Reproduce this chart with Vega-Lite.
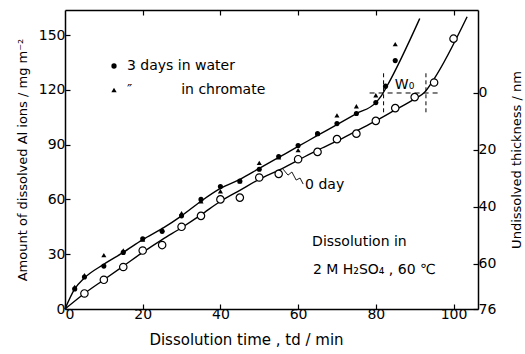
{
 "$schema": "https://vega.github.io/schema/vega-lite/v6.json",
 "width": 413, "height": 299,
 "autosize": {"type": "none"},
 "padding": {"left": 65, "top": 10, "right": 47, "bottom": 45},
 "background": "white",
 "config": {
  "view": {"stroke": null},
  "font": "DejaVu Sans",
  "axis": {"grid": false, "domainColor": "black", "domainWidth": 1.5, "tickColor": "black", "tickWidth": 1.2, "tickSize": -5, "labelPadding": 3, "labelFont": "DejaVu Sans", "labelFontSize": 14, "labelColor": "black", "titleFont": "DejaVu Sans", "titleFontSize": 14, "titleFontWeight": "normal", "titleColor": "black"}
 },
 "datasets": {
  "lines": [
   {"t": 0, "amt": 0, "line": "water"}, {"t": 2.5, "amt": 11, "line": "water"}, {"t": 5, "amt": 17, "line": "water"}, {"t": 10, "amt": 24.5, "line": "water"}, {"t": 15, "amt": 31, "line": "water"}, {"t": 20, "amt": 38, "line": "water"}, {"t": 25, "amt": 44, "line": "water"}, {"t": 30, "amt": 51, "line": "water"}, {"t": 35, "amt": 59, "line": "water"}, {"t": 40, "amt": 66, "line": "water"}, {"t": 45, "amt": 71, "line": "water"}, {"t": 50, "amt": 77, "line": "water"}, {"t": 55, "amt": 83, "line": "water"}, {"t": 60, "amt": 89, "line": "water"}, {"t": 65, "amt": 95, "line": "water"}, {"t": 70, "amt": 101, "line": "water"}, {"t": 75, "amt": 107, "line": "water"}, {"t": 80, "amt": 113, "line": "water"}, {"t": 81.5, "amt": 117, "line": "water"}, {"t": 83, "amt": 122.5, "line": "water"}, {"t": 91.3, "amt": 159, "line": "water"},
   {"t": 0, "amt": 0, "line": "0day"}, {"t": 5, "amt": 8.5, "line": "0day"}, {"t": 10, "amt": 16, "line": "0day"}, {"t": 15, "amt": 23.5, "line": "0day"}, {"t": 20, "amt": 31, "line": "0day"}, {"t": 25, "amt": 38, "line": "0day"}, {"t": 30, "amt": 44.5, "line": "0day"}, {"t": 35, "amt": 51.5, "line": "0day"}, {"t": 40, "amt": 59, "line": "0day"}, {"t": 45, "amt": 65, "line": "0day"}, {"t": 50, "amt": 71, "line": "0day"}, {"t": 55, "amt": 76, "line": "0day"}, {"t": 60, "amt": 81.5, "line": "0day"}, {"t": 65, "amt": 87, "line": "0day"}, {"t": 70, "amt": 92, "line": "0day"}, {"t": 75, "amt": 97.5, "line": "0day"}, {"t": 80, "amt": 103, "line": "0day"}, {"t": 85, "amt": 109, "line": "0day"}, {"t": 90, "amt": 115, "line": "0day"}, {"t": 92.5, "amt": 118.5, "line": "0day"}, {"t": 95, "amt": 126, "line": "0day"}, {"t": 103.5, "amt": 160, "line": "0day"}
  ],
  "pts": [
   {"t": 5, "amt": 8.5, "series": "0day"}, {"t": 10, "amt": 16, "series": "0day"}, {"t": 15, "amt": 23, "series": "0day"}, {"t": 20, "amt": 32, "series": "0day"}, {"t": 25, "amt": 35, "series": "0day"}, {"t": 30, "amt": 45, "series": "0day"}, {"t": 35, "amt": 51, "series": "0day"}, {"t": 40, "amt": 60, "series": "0day"}, {"t": 45, "amt": 61, "series": "0day"}, {"t": 50, "amt": 72, "series": "0day"}, {"t": 55, "amt": 74, "series": "0day"}, {"t": 60, "amt": 82, "series": "0day"}, {"t": 65, "amt": 86, "series": "0day"}, {"t": 70, "amt": 93, "series": "0day"}, {"t": 75, "amt": 96, "series": "0day"}, {"t": 80, "amt": 103, "series": "0day"}, {"t": 85, "amt": 110, "series": "0day"}, {"t": 90, "amt": 116, "series": "0day"}, {"t": 95, "amt": 124, "series": "0day"}, {"t": 100, "amt": 148, "series": "0day"},
   {"t": 2.5, "amt": 11, "series": "water"}, {"t": 5, "amt": 17.5, "series": "water"}, {"t": 10, "amt": 23.5, "series": "water"}, {"t": 15, "amt": 31, "series": "water"}, {"t": 20, "amt": 38.5, "series": "water"}, {"t": 25, "amt": 42.5, "series": "water"}, {"t": 30, "amt": 51, "series": "water"}, {"t": 35, "amt": 60, "series": "water"}, {"t": 40, "amt": 67, "series": "water"}, {"t": 45, "amt": 70, "series": "water"}, {"t": 50, "amt": 76.5, "series": "water"}, {"t": 55, "amt": 83.5, "series": "water"}, {"t": 60, "amt": 89.5, "series": "water"}, {"t": 65, "amt": 96, "series": "water"}, {"t": 70, "amt": 101.5, "series": "water"}, {"t": 75, "amt": 107, "series": "water"}, {"t": 80, "amt": 113, "series": "water"}, {"t": 82.5, "amt": 122, "series": "water"}, {"t": 85, "amt": 136, "series": "water"},
   {"t": 2.5, "amt": 12, "series": "chromate"}, {"t": 5, "amt": 18.5, "series": "chromate"}, {"t": 10, "amt": 29.5, "series": "chromate"}, {"t": 15, "amt": 32, "series": "chromate"}, {"t": 20, "amt": 38, "series": "chromate"}, {"t": 25, "amt": 43.5, "series": "chromate"}, {"t": 30, "amt": 52.5, "series": "chromate"}, {"t": 35, "amt": 59, "series": "chromate"}, {"t": 40, "amt": 64.5, "series": "chromate"}, {"t": 45, "amt": 70, "series": "chromate"}, {"t": 50, "amt": 80, "series": "chromate"}, {"t": 55, "amt": 83, "series": "chromate"}, {"t": 60, "amt": 87, "series": "chromate"}, {"t": 65, "amt": 96, "series": "chromate"}, {"t": 70, "amt": 106, "series": "chromate"}, {"t": 75, "amt": 111, "series": "chromate"}, {"t": 80, "amt": 117, "series": "chromate"}, {"t": 85, "amt": 145, "series": "chromate"}
  ],
  "leader": [
   {"t": 56.1, "amt": 76.6}, {"t": 57.4, "amt": 73.3}, {"t": 58.4, "amt": 75.0}, {"t": 59.5, "amt": 70.6}, {"t": 60.5, "amt": 71.7}, {"t": 61.3, "amt": 68.4}
  ],
  "vdash": [
   {"t": 82.0, "lo": 107.7, "hi": 129.5}, {"t": 92.9, "lo": 107.7, "hi": 129.5}
  ],
  "hdash": [
   {"t0": 78.4, "t1": 96.5, "nm": 0}
  ],
  "notes": [
   {"t": 61.8, "amt": 67.9, "label": "0 day"},
   {"t": 63.6, "amt": 36.7, "label": "Dissolution  in"},
   {"t": 63.8, "amt": 21.3, "label": "2 M H₂SO₄ , 60 ℃"},
   {"t": 84.9, "amt": 122.6, "label": "W₀"}
  ]
 },
 "layer": [
  {
   "layer": [
    {
     "data": {"name": "lines"},
     "mark": {"type": "line", "color": "black", "strokeWidth": 1.4, "interpolate": "monotone"},
     "encoding": {
      "x": {"field": "t", "type": "quantitative", "scale": {"domain": [0, 106.3], "nice": false, "zero": false}, "axis": {"values": [0, 20, 40, 60, 80, 100], "title": "Dissolution  time , td / min", "titleX": 181, "titlePadding": 11, "titleFontSize": 15}},
      "y": {"field": "amt", "type": "quantitative", "scale": {"domain": [0, 163.7], "nice": false}, "axis": {"values": [0, 30, 60, 90, 120, 150], "title": "Amount of dissolved Al ions / mg m⁻²", "titleFontSize": 13, "titlePadding": 9, "labelPadding": 5}},
      "detail": {"field": "line"}
     }
    },
    {
     "data": {"name": "leader"},
     "mark": {"type": "line", "color": "black", "strokeWidth": 0.9},
     "encoding": {"x": {"field": "t", "type": "quantitative"}, "y": {"field": "amt", "type": "quantitative"}}
    },
    {
     "data": {"name": "vdash"},
     "mark": {"type": "rule", "color": "black", "strokeWidth": 1, "strokeDash": [4, 3]},
     "encoding": {"x": {"field": "t", "type": "quantitative"}, "y": {"field": "lo", "type": "quantitative"}, "y2": {"field": "hi"}}
    },
    {
     "data": {"name": "pts"},
     "transform": [{"filter": "datum.series == '0day'"}],
     "mark": {"type": "point", "shape": "circle", "filled": true, "fill": "white", "stroke": "black", "strokeWidth": 1.2, "size": 55, "opacity": 1},
     "encoding": {"x": {"field": "t", "type": "quantitative"}, "y": {"field": "amt", "type": "quantitative"}}
    },
    {
     "data": {"name": "pts"},
     "transform": [{"filter": "datum.series != '0day'"}],
     "mark": {"type": "point", "filled": true, "color": "black", "opacity": 1, "size": 26},
     "encoding": {
      "x": {"field": "t", "type": "quantitative"},
      "y": {"field": "amt", "type": "quantitative"},
      "shape": {"field": "series", "type": "nominal", "scale": {"domain": ["water", "chromate"], "range": ["circle", "triangle-up"]},
       "legend": {"title": null, "orient": "none", "legendX": 42, "legendY": 49, "labelFont": "DejaVu Sans", "labelFontSize": 14, "labelColor": "black", "rowPadding": 10, "labelOffset": 6, "symbolSize": 28, "symbolFillColor": "black", "symbolStrokeColor": "black",
        "labelExpr": "datum.value == 'water' ? '3 days in water' : '\u00a0\u00a0\u00a0\u00a0″\u00a0\u00a0\u00a0\u00a0\u00a0\u00a0\u00a0\u00a0\u00a0\u00a0\u00a0in chromate'"}}
     }
    },
    {
     "data": {"name": "notes"},
     "mark": {"type": "text", "align": "left", "baseline": "middle", "font": "DejaVu Sans", "fontSize": 14, "color": "black"},
     "encoding": {"x": {"field": "t", "type": "quantitative"}, "y": {"field": "amt", "type": "quantitative"}, "text": {"field": "label"}}
    }
   ]
  },
  {
   "data": {"name": "hdash"},
   "mark": {"type": "rule", "color": "black", "strokeWidth": 1, "strokeDash": [5, 4]},
   "encoding": {
    "x": {"field": "t0", "type": "quantitative", "scale": {"domain": [0, 106.3], "nice": false, "zero": false}, "axis": {"orient": "top", "labels": false, "title": null, "values": [20, 40, 60, 80, 100]}},
    "x2": {"field": "t1"},
    "y": {"field": "nm", "type": "quantitative", "scale": {"domain": [-29.2, 76], "reverse": true, "nice": false, "zero": false}, "axis": {"orient": "right", "values": [0, 20, 40, 60, 76], "title": "Undissolved thickness / nm", "titleAngle": -90, "titleBaseline": "top", "titlePadding": 15, "titleFontSize": 13, "labelPadding": 5}}
   }
  }
 ],
 "resolve": {"scale": {"x": "independent", "y": "independent"}}
}
